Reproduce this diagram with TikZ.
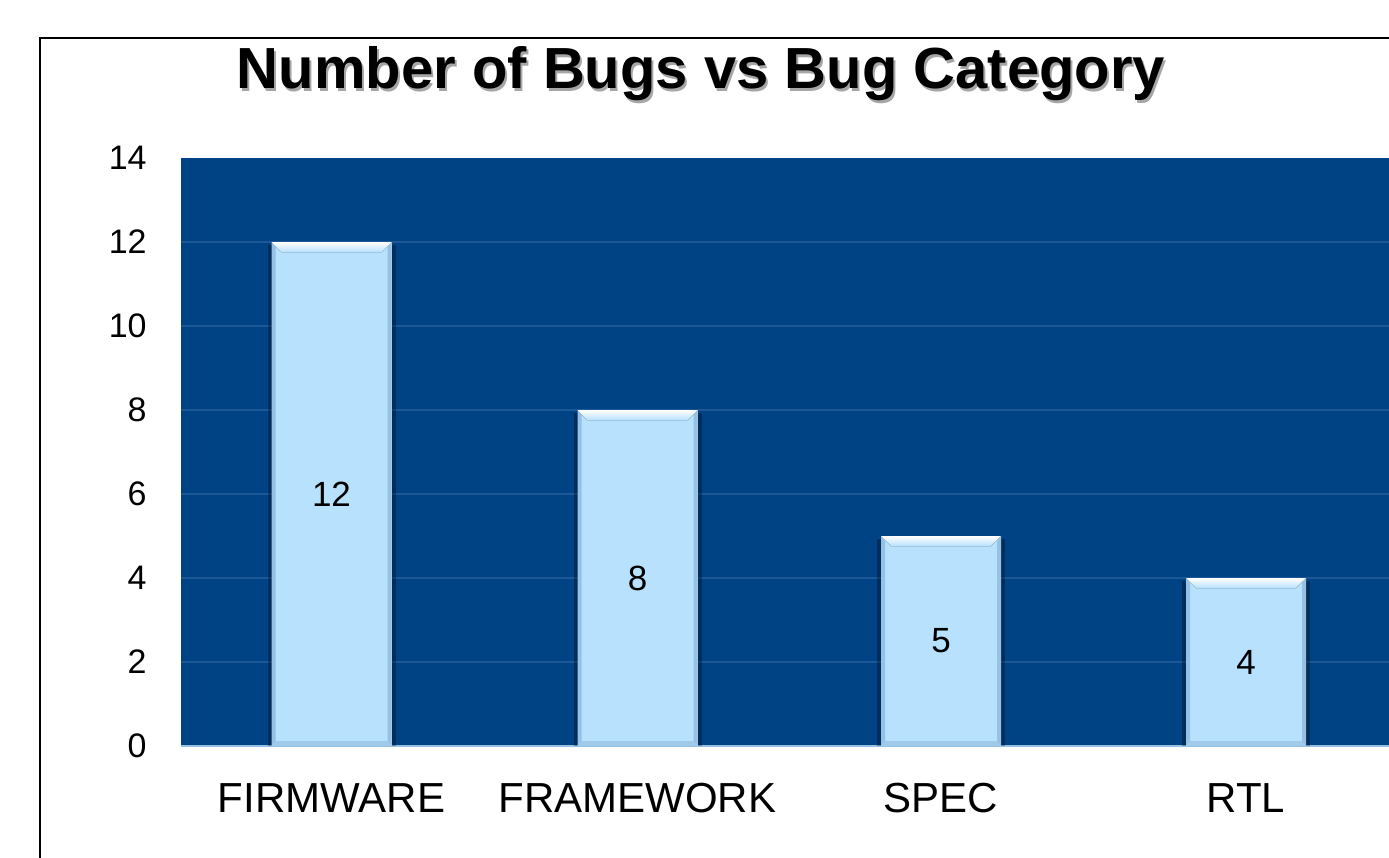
\documentclass[tikz,border=0pt]{standalone}
\usepackage{fontspec}
\setmainfont{Liberation Sans}
\usepackage{xcolor}
\usetikzlibrary{positioning, calc}
\definecolor{plotbg}{RGB}{0,67,133}
\definecolor{gridc}{RGB}{28,88,150}
\definecolor{barc}{RGB}{183,225,253}
\definecolor{baredge}{RGB}{150,192,228}
\tikzstyle{tick} = [anchor=east, inner sep=0pt, font=\fontsize{17}{20}\selectfont]
\tikzstyle{cat} = [inner sep=0pt, font=\fontsize{21}{25}\selectfont]
\tikzstyle{val} = [inner sep=0pt, font=\fontsize{17.5}{21}\selectfont]
\tikzstyle{ttl} = [inner sep=0pt, font=\bfseries\fontsize{29}{34}\selectfont]

\begin{document}
\begin{tikzpicture}[x=0.5pt, y=-0.5pt]
    \useasboundingbox (0,0) rectangle (1389,858);
    % outer frame
    \draw [line width=1pt] (40,858) -- (40,38) -- (1389,38);
    % title with shadow
    \node (shadow) [ttl, text=black!35] at (703,77) {Number of Bugs vs Bug Category};
    \node (title) [ttl] at (701,74) {Number of Bugs vs Bug Category};
    % plot area
    \fill [plotbg] (181,158) rectangle (1389,746);
    \foreach \v in {2,4,...,12}
        \draw [gridc, line width=0.8pt] (181,746-42*\v) -- (1389,746-42*\v);
    \draw [baredge, line width=1pt] (181,746) -- (1389,746);
    % y ticks
    \foreach \v in {0,2,...,14}
        \node (t\v) [tick] at (147,746-42*\v) {\v};
    % bars
    \foreach \x/\v/\name/\lab in {331.5/12/fw/FIRMWARE, 637.5/8/fr/FRAMEWORK, 941/5/sp/SPEC, 1246/4/rt/RTL} {
        \fill [black, opacity=0.3] (\x-64,746-42*\v+3) rectangle (\x+64,746);
        \fill [barc] (\x-60,746-42*\v) rectangle (\x+60,746);
        \fill [top color=white, bottom color=barc] (\x-60,746-42*\v) -- (\x+60,746-42*\v) -- (\x+50,746-42*\v+10) -- (\x-50,746-42*\v+10) -- cycle;
        \fill [baredge] (\x-60,746-42*\v) -- (\x-56,746-42*\v+5) -- (\x-56,741) -- (\x-60,746) -- cycle;
        \fill [baredge] (\x+60,746-42*\v) -- (\x+56,746-42*\v+5) -- (\x+56,741) -- (\x+60,746) -- cycle;
        \fill [baredge!70!barc] (\x-60,746) -- (\x-56,741) -- (\x+56,741) -- (\x+60,746) -- cycle;
        \node (\name) [val] at (\x,746-21*\v) {\v};
        \node (l\name) [cat] at (\x,798) {\lab};
    }
\end{tikzpicture}
\end{document}
